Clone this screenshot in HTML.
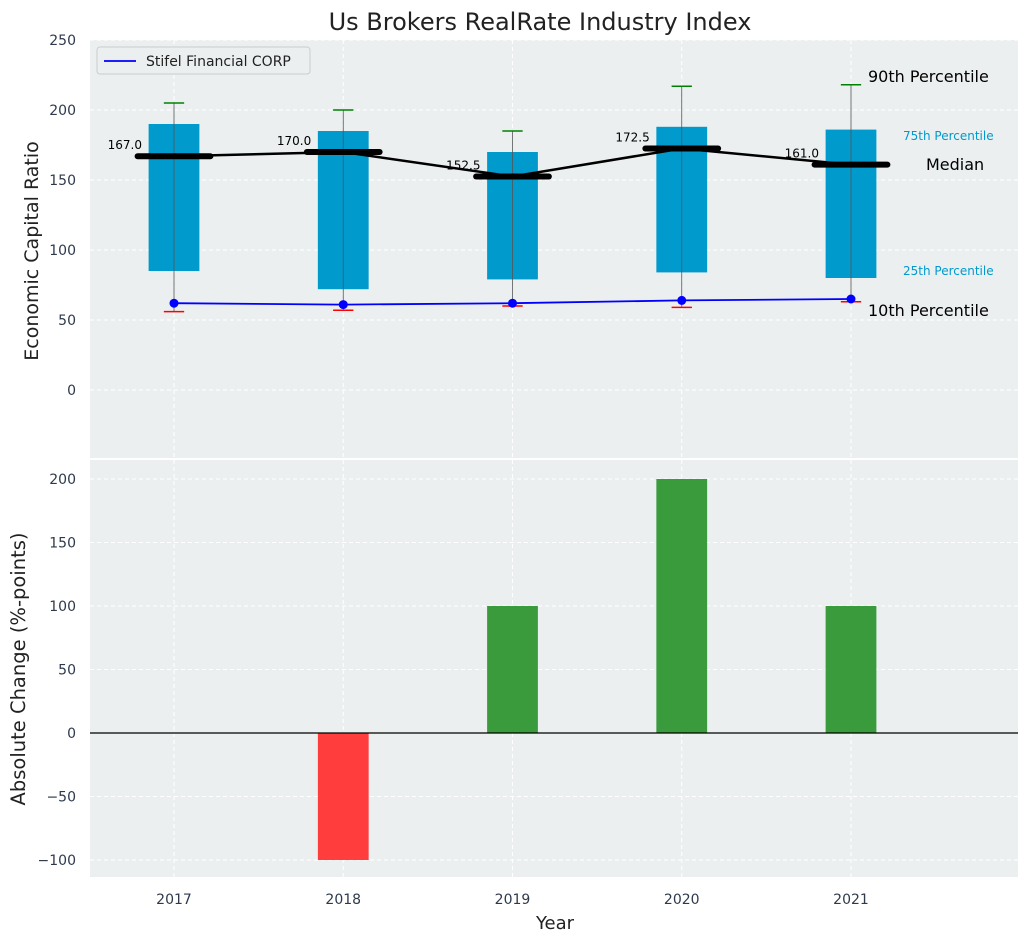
<!DOCTYPE html>
<html><head><meta charset="utf-8">
<style>
body{margin:0;background:#fff;font-family:"Liberation Sans","DejaVu Sans",sans-serif;}
svg text{font-family:"DejaVu Sans","Liberation Sans",sans-serif;}
</style></head>
<body>
<svg id="c" width="1029" height="942" viewBox="0 0 1029 942" xmlns="http://www.w3.org/2000/svg"></svg>
<script>
const years=[2017,2018,2019,2020,2021];
const p10=[56,57,60,59,63];
const p25=[85,72,79,84,80];
const median=[167,170,152.5,172.5,161];
const p75=[190,185,170,188,186];
const p90=[205,200,185,217,218];
const stifel=[62,61,62,64,65];
const change=[0,-100,100,200,100];
const topTicks=[0,50,100,150,200,250];
const botTicks=[-100,-50,0,50,100,150,200];

const NS='http://www.w3.org/2000/svg';
const svg=document.getElementById('c');
function el(tag,attrs,parent){const e=document.createElementNS(NS,tag);for(const k in attrs)e.setAttribute(k,attrs[k]);(parent||svg).appendChild(e);return e;}
const L=90,R=1018;
const pxPerYear=169.25;
const x=v=>174+(v-2017)*pxPerYear;
const yT=v=>390-v*1.4;
const yB=v=>733-v*1.27;
const tickCol='#2e3a4c';

let g=el('g',{});
el('rect',{x:L,y:40,width:R-L,height:418,fill:'#ebeff0'},g);
let g2=el('g',{});
el('rect',{x:L,y:460,width:R-L,height:417,fill:'#ebeff0'},g2);

years.forEach(yr=>{
  el('line',{x1:x(yr),x2:x(yr),y1:40,y2:458,stroke:'#fff','stroke-dasharray':'4,3','stroke-width':1},g);
  el('line',{x1:x(yr),x2:x(yr),y1:460,y2:877,stroke:'#fff','stroke-dasharray':'4,3','stroke-width':1},g2);
  const t=el('text',{x:x(yr),y:904,'text-anchor':'middle','font-size':14,fill:tickCol});t.textContent=yr;
  
});
topTicks.forEach(v=>{
  el('line',{x1:L,x2:R,y1:yT(v),y2:yT(v),stroke:'#fff','stroke-dasharray':'4,3'},g);
  const t=el('text',{x:76,y:yT(v)+5,'text-anchor':'end','font-size':14,fill:tickCol});t.textContent=v;
  
});
botTicks.forEach(v=>{
  el('line',{x1:L,x2:R,y1:yB(v),y2:yB(v),stroke:'#fff','stroke-dasharray':'4,3'},g2);
  const t=el('text',{x:76,y:yB(v)+5,'text-anchor':'end','font-size':14,fill:tickCol});t.textContent=(v<0?'\u2212'+(-v):v);
  
});

const bw=0.3*pxPerYear, mw=0.43*pxPerYear, cw=0.12*pxPerYear;
years.forEach((yr,i)=>{
  const cx=x(yr);
  const b=el('rect',{x:cx-bw/2,y:yT(p75[i]),width:bw,height:yT(p25[i])-yT(p75[i]),fill:'#009acd'},g);
  
  el('line',{x1:cx,x2:cx,y1:yT(p90[i]),y2:yT(p10[i]),stroke:'#555','stroke-width':0.8},g);
  el('line',{x1:cx-cw/2,x2:cx+cw/2,y1:yT(p90[i]),y2:yT(p90[i]),stroke:'green','stroke-width':1.5},g);
  el('line',{x1:cx-cw/2,x2:cx+cw/2,y1:yT(p10[i]),y2:yT(p10[i]),stroke:'red','stroke-width':1.5},g);
  el('line',{x1:cx-mw/2,x2:cx+mw/2,y1:yT(median[i]),y2:yT(median[i]),stroke:'#000','stroke-width':6,'stroke-linecap':'round'},g);
  const t=el('text',{x:cx-32,y:yT(median[i])-7,'text-anchor':'end','font-size':12,fill:'#000'});t.textContent=median[i].toFixed(1);
  
});
let pts=years.map((yr,i)=>x(yr)+','+yT(median[i])).join(' ');
el('polyline',{points:pts,fill:'none',stroke:'#000','stroke-width':2.5},g);
pts=years.map((yr,i)=>x(yr)+','+yT(stifel[i])).join(' ');
const sl=el('polyline',{points:pts,fill:'none',stroke:'blue','stroke-width':1.8},g);

years.forEach((yr,i)=>{const c=el('circle',{cx:x(yr),cy:yT(stifel[i]),r:4.5,fill:'blue'},g);});

years.forEach((yr,i)=>{
  const v=change[i]; if(v===0)return;
  const r=el('rect',{x:x(yr)-bw/2,y:Math.min(yB(v),yB(0)),width:bw,height:Math.abs(yB(v)-yB(0)),fill:v>0?'#3a9b3c':'#ff3d3d'},g2);
  
});
el('line',{x1:L,x2:R,y1:yB(0),y2:yB(0),stroke:'#000','stroke-width':1.2},g2);

function txt(s,xx,yy,sz,fill,name,anchor,extra){const t=el('text',Object.assign({x:xx,y:yy,'font-size':sz,fill:fill,'text-anchor':anchor||'start'},extra||{}));t.textContent=s;return t;}
txt('90th Percentile',868,82,16,'#000','p90-annotation');
txt('75th Percentile',903,140,12,'#009acd','p75-annotation');
txt('Median',926,170,16,'#000','median-annotation');
txt('25th Percentile',903,275,12,'#009acd','p25-annotation');
txt('10th Percentile',868,316,16,'#000','p10-annotation');
txt('Us Brokers RealRate Industry Index',540,30,24,'#222','chart-title','middle');
txt('Year',555,929,18,'#222','x-axis-title','middle');
txt('Economic Capital Ratio',38,251,19,'#222','y-axis-title-top','middle',{transform:'rotate(-90 38 251)'});
txt('Absolute Change (%-points)',25,669,19.5,'#222','y-axis-title-bottom','middle',{transform:'rotate(-90 25 669)'});

const lg=el('g',{});
el('rect',{x:97,y:47,width:213,height:27,rx:3,fill:'#ebeff0',stroke:'#ccc'},lg);
el('line',{x1:104,x2:136,y1:61,y2:61,stroke:'blue','stroke-width':1.8},lg);
const lt=el('text',{x:146,y:66,'font-size':14,fill:'#222'},lg);lt.textContent='Stifel Financial CORP';

</script>
</body></html>
